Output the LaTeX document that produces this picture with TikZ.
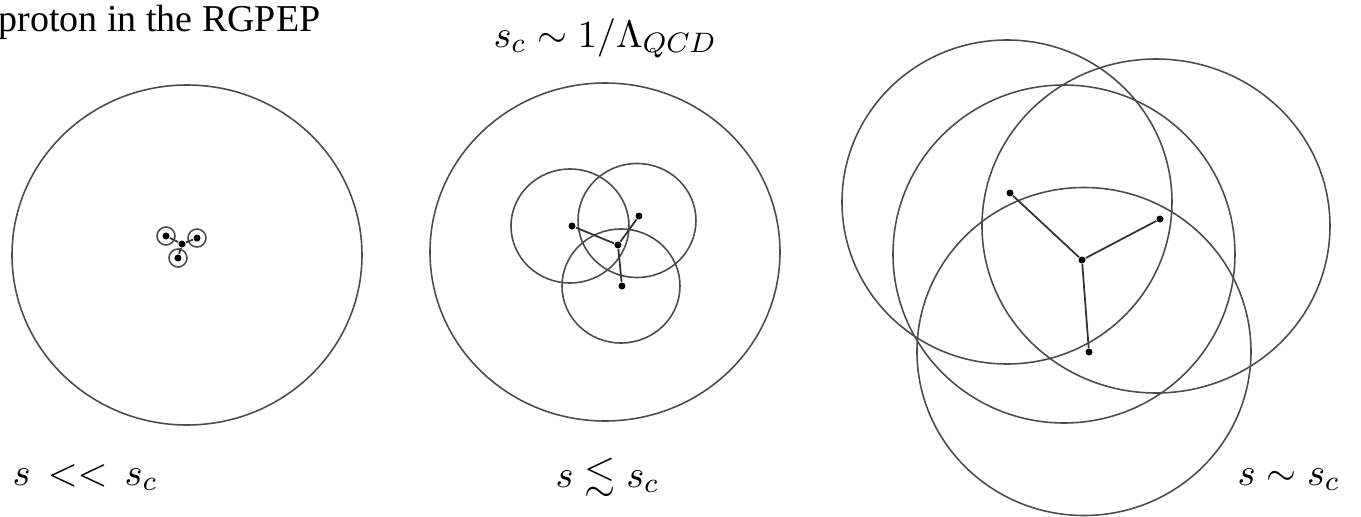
\documentclass[tikz,border=0pt]{standalone}
\usepackage{amssymb}
\usepackage{fontspec}
\newfontfamily\titlefont{Liberation Serif}
\tikzset{
  ring/.style={black!70, line width=0.45pt},
  string/.style={black!80, line width=0.5pt},
  quark/.style={circle, fill=black, inner sep=0pt, minimum size=0.7mm},
  label/.style={font=\fontsize{11.4}{13}\selectfont, anchor=base west, inner sep=0pt},
}
\begin{document}
\begin{tikzpicture}
    \useasboundingbox (0,0) rectangle (13.61,5.16);
    \node[anchor=base west, inner sep=0pt, font=\titlefont\fontsize{10.8}{12}\selectfont] (title) at (-0.02,4.85) {proton in the RGPEP};
    % s << s_c
    \draw[ring] (1.87,2.61) ellipse [x radius=1.75, y radius=1.70];
    \node[quark] (la) at (1.66,2.80) {};
    \node[quark] (lb) at (1.97,2.78) {};
    \node[quark] (lc) at (1.78,2.58) {};
    \node[quark] (lj) at (1.82,2.72) {};
    \foreach \q in {la,lb,lc} {
        \draw[ring] (\q) circle (0.09);
        \draw[string] (lj) -- (\q);
    }
    \node[label] (lefttxt) at (0.12,0.31) {$s \,<<\, s_c$};
    % s <~ s_c
    \draw[ring] (6.05,2.64) ellipse [x radius=1.75, y radius=1.69];
    \node[quark] (ma) at (5.72,2.90) {};
    \node[quark] (mb) at (6.39,3.00) {};
    \node[quark] (mc) at (6.22,2.30) {};
    \node[quark] (mj) at (6.18,2.71) {};
    \draw[ring] (5.70,2.90) ellipse [x radius=0.59, y radius=0.57];
    \draw[ring] (6.37,2.955) ellipse [x radius=0.59, y radius=0.57];
    \draw[ring] (6.21,2.30) ellipse [x radius=0.59, y radius=0.57];
    \foreach \q in {ma,mb,mc} \draw[string] (mj) -- (\q);
    \node[label] (scale) at (4.93,4.69) {$s_c \sim 1/\Lambda_{QCD}$};
    \node[label] (midtxt) at (5.55,0.29) {$s \lesssim s_c$};
    % s ~ s_c
    \draw[ring] (10.07,3.14) ellipse [x radius=1.65, y radius=1.62];
    \draw[ring] (10.64,2.62) ellipse [x radius=1.71, y radius=1.69];
    \draw[ring] (11.56,2.90) ellipse [x radius=1.74, y radius=1.67];
    \draw[ring] (10.84,1.645) ellipse [x radius=1.67, y radius=1.64];
    \node[quark] (ra) at (10.10,3.23) {};
    \node[quark] (rb) at (11.60,2.97) {};
    \node[quark] (rc) at (10.89,1.64) {};
    \node[quark] (rj) at (10.82,2.56) {};
    \foreach \q in {ra,rb,rc} \draw[string] (rj) -- (\q);
    \node[label] (righttxt) at (12.37,0.31) {$s \sim s_c$};
\end{tikzpicture}
\end{document}
